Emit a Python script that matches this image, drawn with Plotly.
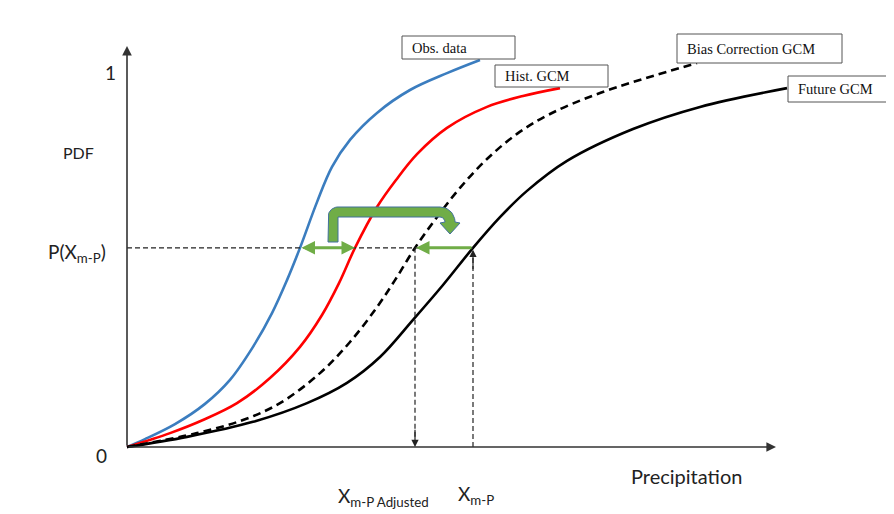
import numpy as np
import plotly.graph_objects as go

# ---- Schematic CDF curves (x: precipitation, arbitrary units; y: cumulative probability) ----
obs_x = [0, 0.18, 0.48, 0.78, 1.03, 1.26, 1.45, 1.60, 1.73, 1.90, 2.05, 2.23, 2.50, 2.83, 3.20, 3.53]
obs_y = [0, 0.021, 0.061, 0.115, 0.179, 0.267, 0.357, 0.445, 0.531, 0.653, 0.747, 0.819, 0.891, 0.952, 0.997, 1.032]

hist_x = [0, 0.43, 0.76, 1.10, 1.43, 1.73, 1.95, 2.12, 2.28, 2.50, 2.69, 2.90, 3.20, 3.60, 3.96, 4.33]
hist_y = [0, 0.037, 0.072, 0.117, 0.184, 0.267, 0.352, 0.437, 0.531, 0.640, 0.712, 0.781, 0.851, 0.907, 0.936, 0.957]

bc_x = [0, 0.70, 1.16, 1.53, 1.93, 2.23, 2.50, 2.68, 2.88, 3.10, 3.33, 3.60, 3.90, 4.23, 4.73, 5.70]
bc_y = [0, 0.037, 0.072, 0.117, 0.197, 0.280, 0.373, 0.445, 0.531, 0.613, 0.691, 0.768, 0.835, 0.888, 0.944, 1.024]

fut_x = [0, 0.60, 1.26, 1.80, 2.20, 2.53, 2.86, 3.16, 3.46, 3.73, 4.00, 4.40, 5.06, 5.73, 6.60]
fut_y = [0, 0.027, 0.067, 0.117, 0.171, 0.240, 0.339, 0.432, 0.531, 0.613, 0.683, 0.763, 0.848, 0.907, 0.957]

p_level = 0.531      # P(X_m-P)
x_obs_p = 1.73       # obs curve at P level
x_hist_p = 2.28      # hist GCM curve at P level
x_adj = 2.88         # X_m-P Adjusted
x_mp = 3.46          # X_m-P

labels = ["Obs. data", "Hist. GCM", "Bias Correction GCM", "Future GCM"]

# ---- layout helpers (page pixels; page has an 8px body margin) ----
W, H = 894, 514
PAD = 8
OX, OY = 127, 447          # page pixel position of origin
SX, SY = 100.0, 375.0      # pixels per data unit
def X(px): return (px - OX) / SX
def Y(py): return (OY - py) / SY

xr = [X(PAD), X(W)]
yr = [Y(H), Y(PAD)]

fig = go.Figure()

def curve(xs, ys, color, dash="solid"):
    fig.add_trace(go.Scatter(x=xs, y=ys, mode="lines",
                             line=dict(color=color, width=2.6, shape="spline", smoothing=1.0, dash=dash),
                             hoverinfo="skip", showlegend=False))

curve(obs_x, obs_y, "#3b7dbf")
curve(hist_x, hist_y, "#ff0000")
curve(bc_x, bc_y, "#000000", dash="8px,5px")
curve(fut_x, fut_y, "#000000")

# ---- bent green arrow (polygon) ----
def arc(cx, cy, r, a0, a1, n=14):
    a = np.linspace(np.radians(a0), np.radians(a1), n)
    return list(cx + r * np.cos(a)), list(cy - r * np.sin(a))

sx0, sx1 = 328, 338      # stem edges (px)
ytop, yin, ybot = 207, 217, 242
pts_x, pts_y = [sx0, sx0], [ybot, ytop + 10]
ax_, ay_ = arc(sx0 + 10, ytop + 10, 10, 180, 90)
pts_x += ax_; pts_y += ay_
pts_x += [440]; pts_y += [ytop]
ax_, ay_ = arc(440, 222, 15, 90, 0)
pts_x += ax_; pts_y += ay_
pts_x += [460, 450, 440, 445]; pts_y += [223, 234, 223, 222]
ax_, ay_ = arc(440, 222, 5, 0, 90, 8)
pts_x += ax_; pts_y += ay_
pts_x += [sx1, sx1, sx0]; pts_y += [yin, ybot, ybot]
fig.add_trace(go.Scatter(x=[X(p) for p in pts_x], y=[Y(p) for p in pts_y], mode="lines",
                         fill="toself", fillcolor="#70ad47",
                         line=dict(color="#41719c", width=1), hoverinfo="skip", showlegend=False))

shapes = []
guide = dict(color="#222222", width=1.2, dash="5px,3px")
shapes.append(dict(type="line", x0=0, x1=x_mp, y0=p_level, y1=p_level, line=guide))
shapes.append(dict(type="line", x0=x_adj, x1=x_adj, y0=p_level, y1=0.02, line=guide))
shapes.append(dict(type="line", x0=x_mp, x1=x_mp, y0=0, y1=p_level - 0.02, line=guide))

# label boxes
boxes = [(402, 515, 36, 59), (495, 608, 65, 87), (677, 842, 34, 63), (788, 893, 76, 102)]
annotations = []
for (x0, x1, y0, y1), lab in zip(boxes, labels):
    shapes.append(dict(type="rect", x0=X(x0), x1=X(x1), y0=Y(y1), y1=Y(y0),
                       fillcolor="white", line=dict(color="#555555", width=1), layer="above"))
    annotations.append(dict(x=X(x0 + 8), y=Y((y0 + y1) / 2), text=lab, showarrow=False,
                            xanchor="left", yanchor="middle",
                            font=dict(family="Liberation Serif", size=14.5, color="#111111")))

def arrow(x, y, ax, ay, color, width, head=2, size=1.0, side="end"):
    annotations.append(dict(x=x, y=y, ax=ax, ay=ay, xref="x", yref="y", axref="x", ayref="y",
                            text="", showarrow=True, arrowhead=head, arrowsize=size,
                            arrowwidth=width, arrowcolor=color, arrowside=side))

# axes with arrowheads
arrow(0, Y(46), 0, 0, "#333333", 1.6, head=2, size=1.2)
arrow(X(776), 0, 0, 0, "#333333", 1.6, head=2, size=1.2)
# arrowheads on the vertical guides
arrow(x_adj, 0.0, x_adj, 0.05, "#222222", 1.2, head=2, size=1.2)
arrow(x_mp, p_level - 0.005, x_mp, p_level - 0.06, "#222222", 1.2, head=2, size=1.2)
# green horizontal arrows
arrow(x_hist_p, p_level, x_obs_p, p_level, "#70ad47", 3, head=2, size=0.9, side="end+start")
arrow(x_adj + 0.01, p_level, x_mp, p_level, "#70ad47", 3, head=2, size=0.9)

sans = "Lato"
def txt(px, py, s, size, anchor="center", color="#222222"):
    annotations.append(dict(x=X(px), y=Y(py), text=s, showarrow=False, xanchor=anchor,
                            yanchor="middle", font=dict(family=sans, size=size, color=color)))

txt(110, 72, "1", 19)
txt(78, 152, "PDF", 16)
txt(46, 253, "P(X<sub>m-P</sub>)", 19, anchor="left")
txt(101, 455, "0", 19)
txt(686, 476, "Precipitation", 20)
txt(336, 497, "X<sub>m-P Adjusted</sub>", 19, anchor="left")
txt(456, 495, "X<sub>m-P</sub>", 19, anchor="left")

fig.update_layout(
    width=W - PAD, height=H - PAD, margin=dict(l=0, r=0, t=0, b=0),
    paper_bgcolor="white", plot_bgcolor="white",
    xaxis=dict(range=xr, visible=False, fixedrange=True),
    yaxis=dict(range=yr, visible=False, fixedrange=True),
    shapes=shapes, annotations=annotations, showlegend=False,
)
fig.write_html("out.html")
